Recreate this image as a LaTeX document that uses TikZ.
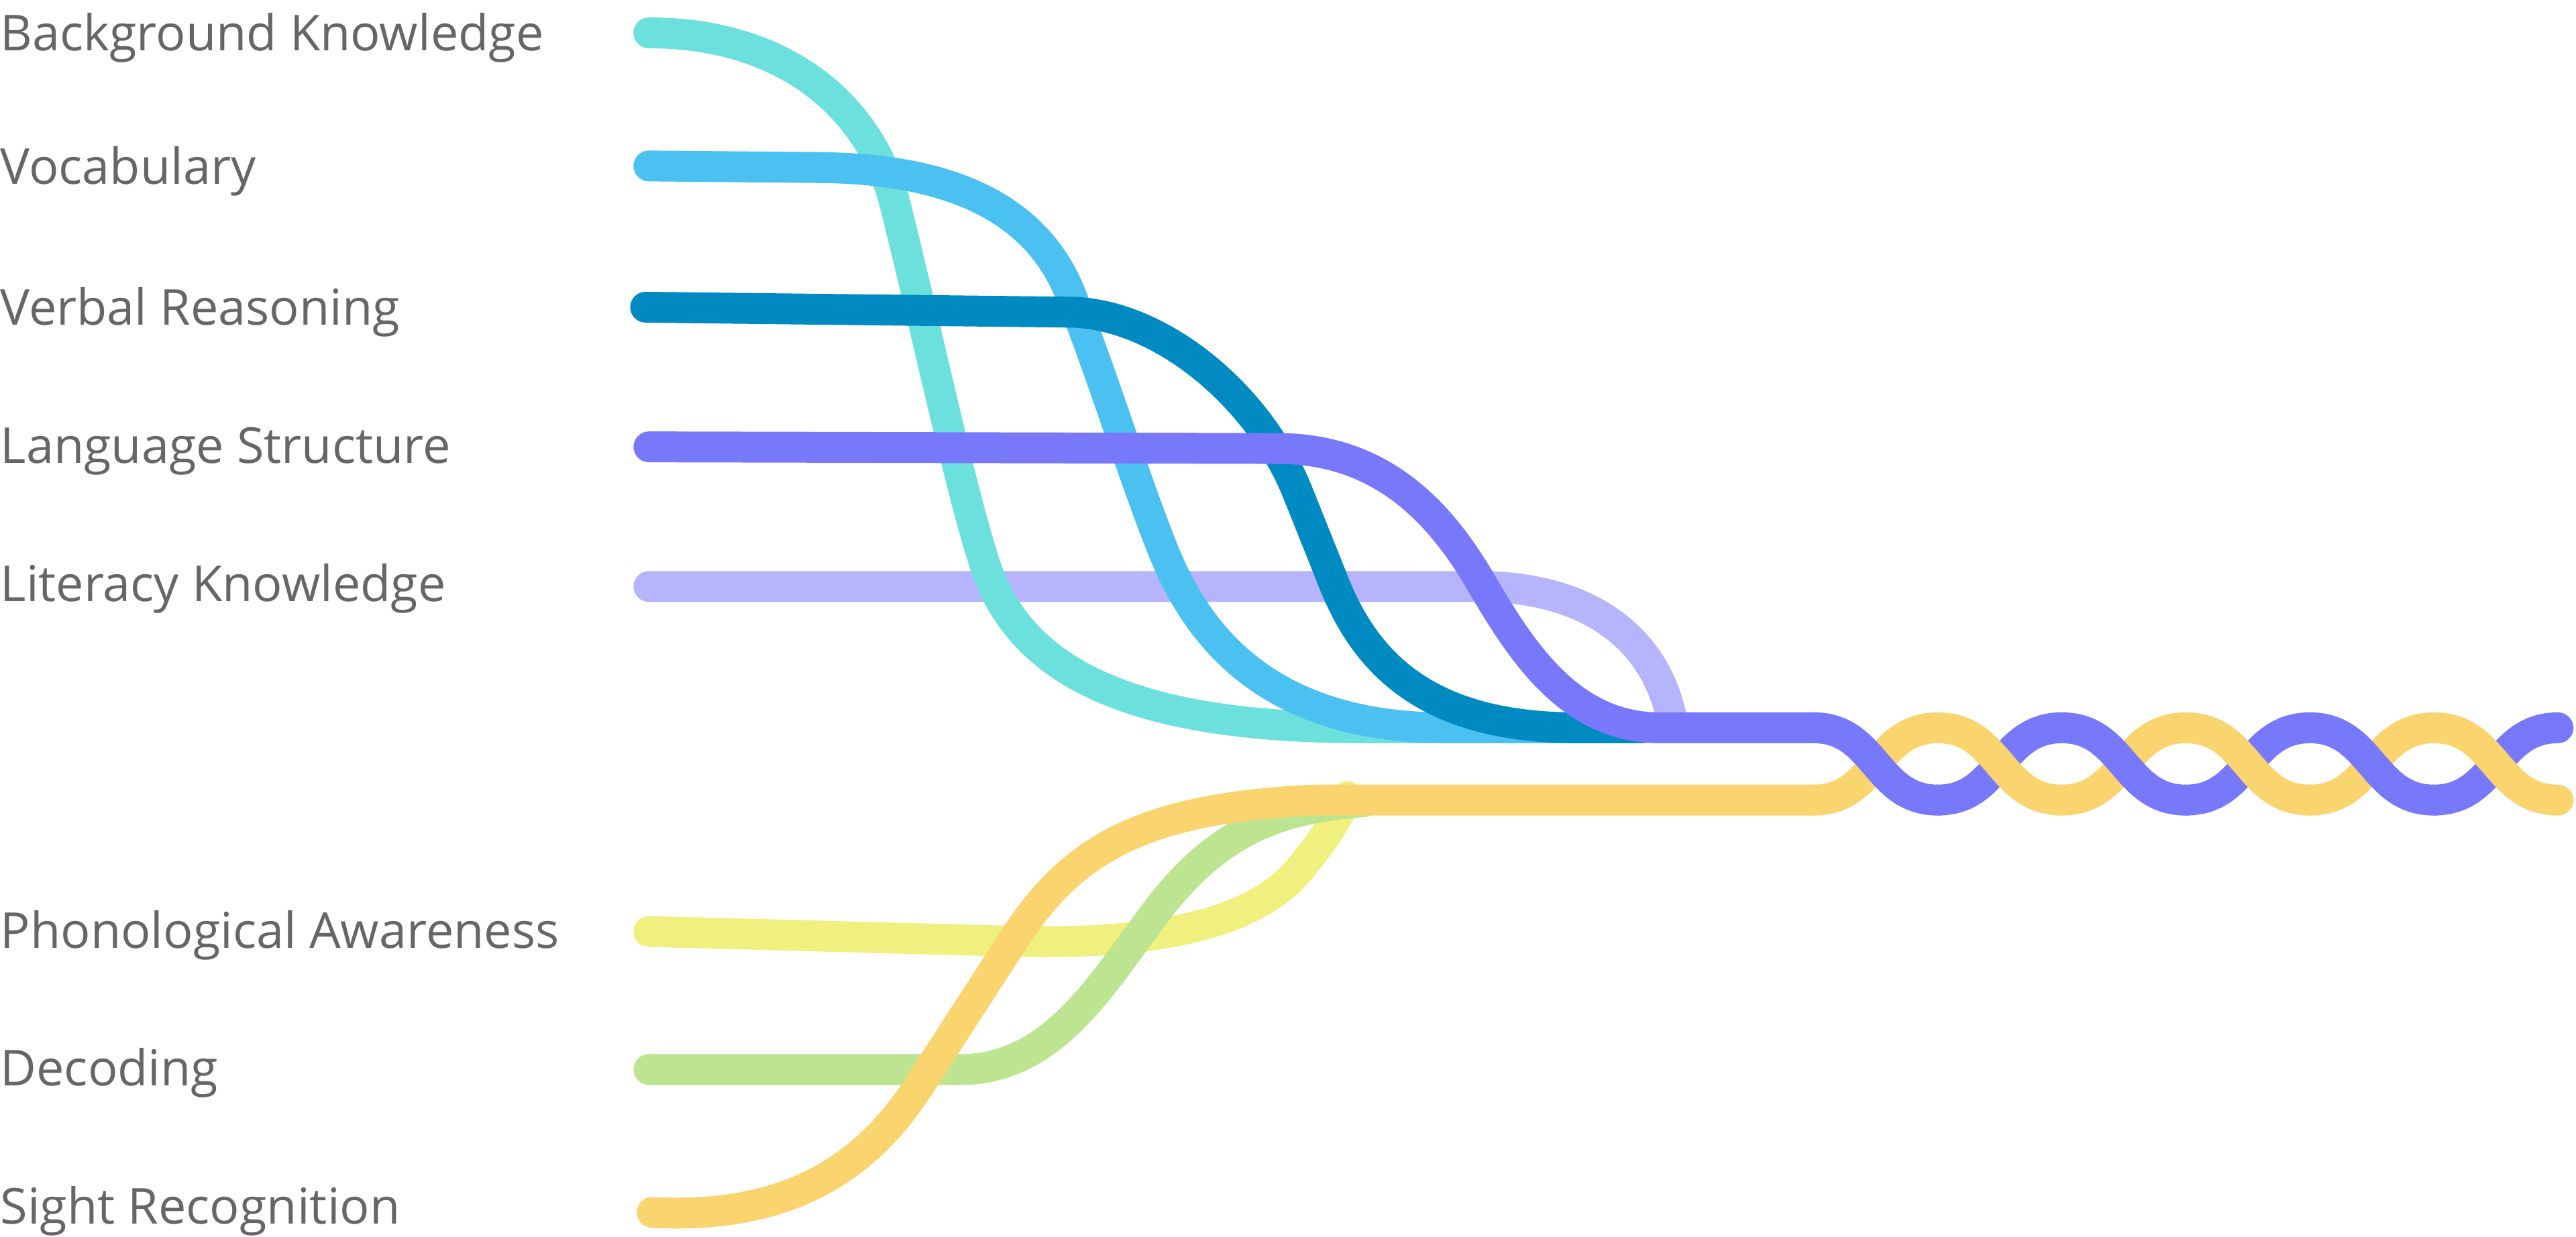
\documentclass[tikz,border=0pt]{standalone}
\usepackage{fontspec}
\setmainfont{Open Sans}
\usepackage{xcolor}
\definecolor{bkteal}{HTML}{6BE0DC}
\definecolor{vocblue}{HTML}{4BC1F1}
\definecolor{verbblue}{HTML}{008AC2}
\definecolor{langpurple}{HTML}{7878FB}
\definecolor{litlavender}{HTML}{B5B4FC}
\definecolor{phonyellow}{HTML}{F0F07E}
\definecolor{decgreen}{HTML}{BDE591}
\definecolor{sightorange}{HTML}{F9D46F}
\definecolor{textgray}{HTML}{666666}
\usepackage{tikz}
\tikzstyle{strand} = [line width=4.6mm, line cap=round, line join=round]
\tikzstyle{ropetext} = [anchor=base west, inner sep=0pt, text=textgray,
  font=\fontsize{21pt}{25pt}\selectfont]

\begin{document}
\begin{tikzpicture}[x=0.2449mm, y=-0.2449mm]
  \useasboundingbox (0,0) rectangle (1568,752.6);
  % labels
  \node[ropetext] (bk)  at (0, 31)  {Background Knowledge};
  \node[ropetext] (voc) at (0, 112) {Vocabulary};
  \node[ropetext] (vr)  at (0, 198) {Verbal Reasoning};
  \node[ropetext] (ls)  at (0, 282) {Language Structure};
  \node[ropetext] (lk)  at (0, 366) {Literacy Knowledge};
  \node[ropetext] (pa)  at (0, 577) {Phonological Awareness};
  \node[ropetext] (dec) at (0, 661) {Decoding};
  \node[ropetext] (sr)  at (0, 745) {Sight Recognition};
  % strand ends
  \coordinate (bk-s)  at (395, 20);
  \coordinate (voc-s) at (395, 101);
  \coordinate (vr-s)  at (393, 187);
  \coordinate (ls-s)  at (395, 272);
  \coordinate (lk-s)  at (395, 357);
  \coordinate (pa-s)  at (395, 567);
  \coordinate (dec-s) at (395, 651);
  \coordinate (sr-s)  at (397, 738);
  \coordinate (top-w) at (1104, 443);
  \coordinate (bot-w) at (1104, 487);
  % literacy knowledge
  \draw[strand, litlavender] (lk-s) -- (905, 357)
    .. controls (975, 359) and (1010, 395) .. (1018, 440);
  % background knowledge
  \draw[strand, bkteal] (bk-s) .. controls (478, 20) and (530, 65) .. (545, 125)
    .. controls (565, 205) and (585, 300) .. (600, 345)
    .. controls (622, 410) and (690, 443) .. (830, 443) -- (920, 443);
  % vocabulary
  \draw[strand, vocblue] (voc-s) -- (500, 102)
    .. controls (590, 103) and (634, 134) .. (652, 180)
    .. controls (675, 240) and (690, 290) .. (708, 335)
    .. controls (728, 385) and (770, 443) .. (880, 443) -- (960, 443);
  % verbal reasoning
  \draw[strand, verbblue] (vr-s) -- (650, 190)
    .. controls (705, 190) and (766, 240) .. (790, 300) -- (812, 355)
    .. controls (832, 405) and (870, 443) .. (960, 443) -- (1000, 443);
  % language structure
  \draw[strand, langpurple] (ls-s) -- (780, 273)
    .. controls (840, 274) and (875, 310) .. (900, 352)
    .. controls (925, 395) and (955, 443) .. (1010, 443) -- (top-w);
  % phonological awareness
  \draw[strand, phonyellow] (pa-s) -- (620, 573)
    .. controls (705, 575) and (765, 562) .. (792, 528)
    .. controls (806, 511) and (813, 500) .. (820, 485);
  % decoding
  \draw[strand, decgreen] (dec-s) -- (585, 651)
    .. controls (640, 651) and (670, 600) .. (700, 560)
    .. controls (735, 512) and (770, 492) .. (830, 488);
  % sight recognition
  \draw[strand, sightorange] (sr-s) .. controls (475, 742) and (525, 715) .. (560, 660)
    -- (615, 575) .. controls (650, 520) and (690, 492) .. (800, 487) -- (bot-w);
  % twist: rising halves first, falling halves on top
  \foreach \k in {0,2,4} {
    \draw[strand, sightorange] ({1104+\k*75.5}, 487)
      .. controls +(37.75,0) and +(-37.75,0) .. ++(75.5,-44);
    \draw[strand, langpurple] ({1104+(\k+1)*75.5}, 487)
      .. controls +(37.75,0) and +(-37.75,0) .. ++(75.5,-44);
  }
  \foreach \k in {0,2,4} {
    \draw[strand, langpurple] ({1104+\k*75.5}, 443)
      .. controls +(37.75,0) and +(-37.75,0) .. ++(75.5,44);
    \draw[strand, sightorange] ({1104+(\k+1)*75.5}, 443)
      .. controls +(37.75,0) and +(-37.75,0) .. ++(75.5,44);
  }
\end{tikzpicture}
\end{document}
